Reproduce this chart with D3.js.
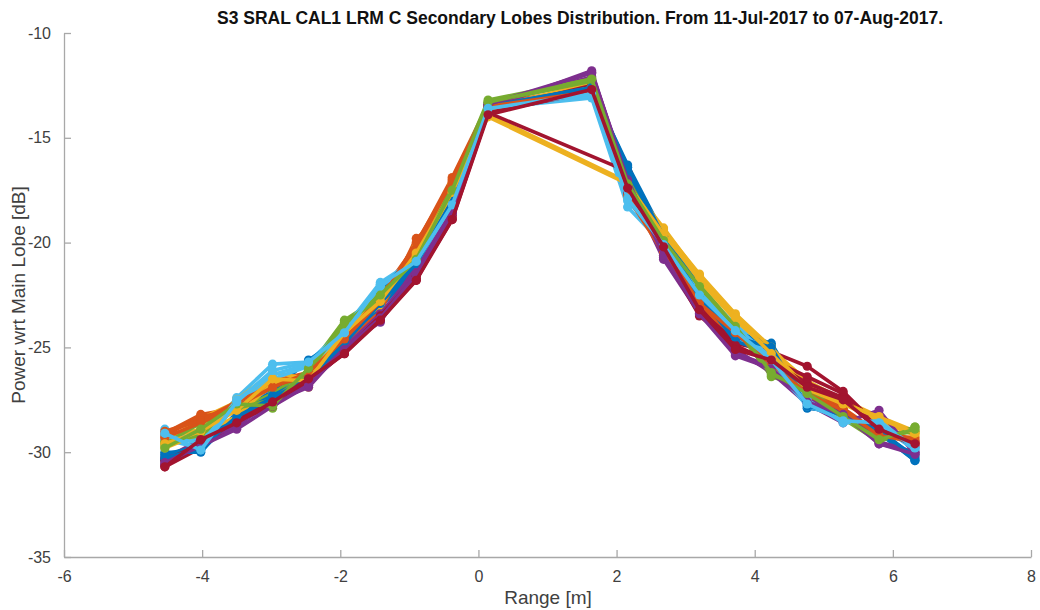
<!DOCTYPE html>
<html>
<head>
<meta charset="utf-8">
<script src="https://cdn.jsdelivr.net/npm/d3@7"></script>
<style>
  body { margin: 0; background: #fff; }
  text { font-family: "Liberation Sans", Arial, sans-serif; }
</style>
</head>
<body>
<script>
// Range positions of the samples [m]
var rangeX = [-4.54, -4.02, -3.50, -2.98, -2.46, -1.94, -1.42, -0.90, -0.38, 0.14,
              1.64, 2.16, 2.68, 3.20, 3.72, 4.24, 4.76, 5.28, 5.80, 6.32];

// One series per day (power wrt main lobe, dB); null = sample missing
var s00 = [-30.2,-29.9,-28.4,-27.6,-26.6,-25.0,-23.1,-21.2,-18.2,-13.6,-12.7,-16.3,-19.6,-22.4,-24.6,-24.9,-27.9,-28.1,-29.0,-30.4];
var s01 = [-29.1,-28.2,-27.9,-26.9,-26.3,-24.3,-22.5,-20.1,-16.9,-13.4,-12.6,-17.6,-20.3,-22.8,-24.1,-25.6,-27.0,-27.9,-29.1,-29.6];
var s02 = [-29.5,-28.4,-27.6,-26.4,-26.9,-24.6,-22.9,-20.4,-17.5,-13.9,null,-17.1,-19.3,-21.6,-23.5,-25.1,-26.6,-27.5,-28.3,-29.0];
var s03 = [-30.4,-29.6,-28.6,-27.7,-26.7,-25.2,-23.5,-21.4,-18.6,-13.5,-11.9,-16.9,-20.4,-23.2,-25.3,-25.9,-27.3,-28.0,-29.6,-30.0];
var s04 = [-29.7,-29.0,-27.8,-27.9,-26.0,-23.7,-22.6,-20.7,-17.6,-13.3,-12.3,-17.3,-19.8,-22.0,-24.0,-26.4,-26.9,-28.3,-29.4,-28.8];
var s05 = [-28.9,-29.5,-27.4,-25.8,-25.7,-24.1,-21.9,-20.8,-18.0,-13.6,-13.1,-18.3,-20.1,-22.3,-23.9,-25.4,-27.2,-28.5,-28.6,-29.8];
var s06 = [-30.7,-29.8,-28.6,-27.4,-26.4,-25.1,-23.7,-21.7,-18.9,-13.8,null,-16.6,-20.0,-22.9,-24.8,-25.2,-25.9,-27.1,-28.8,-29.5];
var s07 = [-30.0,-30.0,-28.1,-27.1,-25.6,-24.5,-22.2,-20.6,-17.8,-13.5,-12.9,-16.8,-19.5,-22.1,-24.3,-24.8,-27.6,-28.4,-28.9,-30.3];
var s08 = [-29.2,-28.3,-28.0,-26.6,-26.2,-24.8,-23.3,-19.8,-18.4,-13.7,-12.8,-17.4,-20.6,-23.0,-24.5,-25.5,-27.4,-28.0,-29.2,-29.3];
var s09 = [-29.3,-28.9,-27.5,-26.2,-26.5,-24.2,-22.7,-20.2,-17.2,-13.6,-12.4,-17.0,-19.4,-21.5,-23.4,-25.0,-26.8,-27.7,-28.5,-29.2];
var s10 = [-30.3,-29.4,-28.8,-27.4,-26.8,-24.9,-23.8,-21.1,-18.1,-13.4,-12.1,-17.2,-20.8,-23.4,-25.1,-26.2,-27.7,-28.6,-28.0,-30.1];
var s11 = [-29.6,-28.6,-28.0,-27.2,-26.1,-24.0,-22.4,-20.9,-17.3,-13.2,-12.2,-16.9,-19.9,-22.2,-24.2,-26.0,-27.1,-28.2,-29.3,-29.0];
var s12 = [-29.4,-29.8,-27.7,-26.5,-25.9,-24.4,-22.0,-21.0,-18.3,-13.7,-12.9,-17.8,-20.2,-22.6,-24.4,-25.8,-27.8,-28.4,-28.7,-29.9];
var s13 = [-30.6,-29.5,-28.5,-27.5,-26.6,-25.3,-23.6,-21.8,-18.7,-13.7,-12.5,-17.5,-20.3,-23.1,-25.0,-25.6,-26.4,-27.2,-28.9,-29.7];
var s14 = [-30.1,-29.7,-28.2,-27.3,-26.4,-24.7,-22.8,-20.5,-17.9,-13.5,-12.6,-16.6,-19.7,-22.5,-24.7,-25.3,-27.5,-28.3,-29.1,-30.4];
var s15 = [-29.0,-28.5,-27.6,-26.8,-26.4,-24.5,-22.6,-20.3,-17.0,-13.5,-12.7,-17.7,-20.4,-22.7,-24.2,-25.7,-27.3,-28.1,-29.0,-29.4];
var s16 = [-29.8,-29.1,-28.3,-26.7,-26.3,-24.4,-23.0,-20.6,-17.7,-13.7,-12.6,-17.3,-19.5,-21.8,-23.7,-25.2,-26.9,-27.6,-28.4,-29.1];
var s17 = [-30.6,-29.5,-28.7,-27.6,-26.9,-25.0,-23.4,-21.3,-18.5,-13.6,-11.8,-17.1,-20.7,-23.3,-25.2,-26.1,-27.5,-28.1,-29.5,-30.0];
var s18 = [-29.5,-29.2,-27.9,-27.5,-26.2,-23.8,-22.7,-20.8,-17.4,-13.3,-12.3,-17.4,-20.0,-22.1,-24.1,-26.3,-27.0,-28.4,-29.5,-28.8];
var s19 = [-29.2,-29.6,-27.5,-26.3,-25.8,-24.2,-22.1,-20.9,-18.1,-13.6,-13.0,-18.0,-20.0,-22.4,-24.0,-25.5,-27.5,-28.6,-28.5,-29.8];
var s20 = [-30.4,-29.6,-28.5,-27.8,-26.7,-25.2,-23.5,-21.6,-18.8,-13.8,-12.8,-17.6,-20.5,-23.5,-24.9,-25.7,-26.7,-27.4,-29.0,-29.6];
var s21 = [-30.3,-29.8,-28.3,-27.4,-26.5,-24.8,-22.9,-21.0,-18.0,-13.5,-12.6,-16.4,-19.7,-22.6,-24.5,-25.0,-27.8,-28.2,-29.0,-30.2];
var s22 = [-29.3,-28.6,-27.8,-26.9,-26.2,-24.6,-22.8,-20.0,-17.1,-13.5,-12.8,-17.8,-20.5,-22.9,-24.3,-25.8,-27.2,-28.0,-29.2,-29.5];
var s23 = [-29.6,-29.0,-28.0,-26.5,-26.6,-24.3,-22.8,-20.5,-17.6,-14.0,null,-17.2,-19.6,-21.7,-23.6,-25.3,-27.0,-27.7,-28.3,-29.1];
var s24 = [-30.5,-29.7,-28.9,-27.8,-26.8,-25.1,-23.6,-21.5,-18.6,-13.4,-11.9,-17.0,-20.6,-23.4,-25.4,-26.0,-27.6,-28.2,-29.6,-30.1];
var s25 = [-29.8,-28.9,-27.7,-27.8,-26.0,-23.9,-22.5,-20.8,-17.5,-13.3,-12.2,-17.2,-19.9,-22.1,-24.0,-26.2,-27.2,-28.3,-29.4,-28.9];
var s26 = [-29.1,-29.9,-27.6,-26.1,-25.7,-24.3,-22.0,-20.9,-18.2,-13.6,-12.9,-17.9,-20.1,-22.5,-24.2,-25.6,-27.7,-28.5,-28.6,-29.8];
var s27 = [-30.7,-29.4,-28.6,-27.6,-26.5,-25.3,-23.7,-21.8,-18.9,-13.9,-12.7,-17.4,-20.2,-23.2,-25.1,-25.6,-26.9,-27.5,-28.9,-29.6];

var series = [s00,s01,s02,s03,s04,s05,s06,s07,s08,s09,s10,s11,s12,s13,
              s14,s15,s16,s17,s18,s19,s20,s21,s22,s23,s24,s25,s26,s27];

var xTicks = [-6, -4, -2, 0, 2, 4, 6, 8];
var yTicks = [-35, -30, -25, -20, -15, -10];

// MATLAB default colour order
var colorOrder = ["#0072BD", "#D95319", "#EDB120", "#7E2F8E", "#77AC30", "#4DBEEE", "#A2142F"];

var width = 1040, height = 610;
var mLeft = 64, mRight = 1031, mTop = 33, mBottom = 557;

var x = d3.scaleLinear().domain([-6, 8]).range([mLeft, mRight]);
var y = d3.scaleLinear().domain([-35, -10]).range([mBottom, mTop]);

var svg = d3.select("body").append("svg")
    .attr("width", width)
    .attr("height", height);

var line = d3.line()
    .x(function(d) { return x(d[0]); })
    .y(function(d) { return y(d[1]); });

// build point lists, skipping missing samples (line joins across them)
var pts = series.map(function(s) {
    return s.map(function(v, i) { return [rangeX[i], v]; })
            .filter(function(p) { return p[1] !== null; });
});

var g = svg.append("g");
pts.forEach(function(p, i) {
    var c = colorOrder[i % colorOrder.length];
    var sg = g.append("g");
    sg.append("path")
        .attr("d", line(p))
        .attr("fill", "none")
        .attr("stroke", c)
        .attr("stroke-width", 3.6)
        .attr("stroke-linejoin", "round");
    sg.selectAll("circle")
        .data(p)
        .enter()
        .append("circle")
        .attr("cx", function(d) { return x(d[0]); })
        .attr("cy", function(d) { return y(d[1]); })
        .attr("r", 4.6)
        .attr("fill", c);
});

// axes (MATLAB look: ticks inside, grey lines, plain hyphen minus)
var fmt = function(d) { return String(d); };
var xAxis = svg.append("g")
    .attr("transform", "translate(0," + mBottom + ")")
    .call(d3.axisBottom(x).tickValues(xTicks).tickFormat(fmt)
        .tickSizeInner(-7).tickSizeOuter(0).tickPadding(14));
var yAxis = svg.append("g")
    .attr("transform", "translate(" + mLeft + ",0)")
    .call(d3.axisLeft(y).tickValues(yTicks).tickFormat(fmt)
        .tickSizeInner(-7).tickSizeOuter(0).tickPadding(13));

[xAxis, yAxis].forEach(function(a) {
    a.select(".domain").attr("stroke", "#a8a8a8").attr("stroke-width", 1.3);
    a.selectAll(".tick line").attr("stroke", "#a8a8a8").attr("stroke-width", 1.3);
    a.selectAll(".tick text")
        .attr("fill", "#404040")
        .style("font-size", "16px")
        .style("font-family", "'Liberation Sans', Arial, sans-serif");
});

// title and labels
svg.append("text")
    .attr("x", 580)
    .attr("y", 24)
    .attr("text-anchor", "middle")
    .style("font-size", "17.5px")
    .style("font-weight", "bold")
    .attr("fill", "#111")
    .text("S3 SRAL CAL1 LRM C Secondary Lobes Distribution. From 11-Jul-2017 to 07-Aug-2017.");

svg.append("text")
    .attr("x", 548)
    .attr("y", 604)
    .attr("text-anchor", "middle")
    .style("font-size", "19px")
    .attr("fill", "#404040")
    .text("Range [m]");

svg.append("text")
    .attr("transform", "translate(25," + ((mTop + mBottom) / 2) + ") rotate(-90)")
    .attr("text-anchor", "middle")
    .style("font-size", "19px")
    .attr("fill", "#404040")
    .text("Power wrt Main Lobe [dB]");
</script>
</body>
</html>
